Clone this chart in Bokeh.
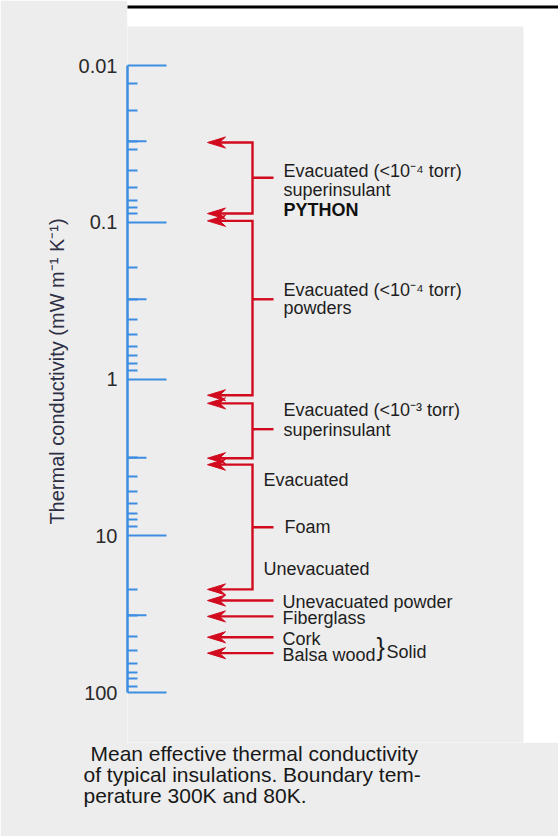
from bokeh.plotting import figure
from bokeh.models import Range1d, FixedTicker, BoxAnnotation, CustomJSTickFormatter, Title
from bokeh.core.properties import value
from bokeh.embed import file_html
from bokeh.resources import INLINE

# ---------------- data ----------------
major_ticks = [0.01, 0.1, 1, 10, 100]
minor_ticks = [0.013, 0.0194, 0.0304, 0.0344, 0.0468, 0.060, 0.0726, 0.0805, 0.088,
               0.1935, 0.31, 0.417, 0.52, 0.62, 0.708, 0.793, 0.883,
               3.18, 4.19, 5.20, 6.22, 7.18, 7.91, 8.73,
               22.1, 32.1, 43.9, 54.0, 65.0, 74.2, 81.5, 91.6]
medium_ticks = [0.0304, 0.31, 3.18, 32.1]

# ranges (upper / lower arrow of each bracket) in mW m-1 K-1
bracket_lo = [0.031, 0.098, 1.43, 3.52]
bracket_hi = [0.088, 1.27, 3.2, 22.0]
bracket_mid = [0.052, 0.31, 2.09, 8.82]

single_names = ["Unevacuated powder", "Fiberglass", "Cork", "Balsa wood"]
single_vals = [25.9, 32.7, 44.4, 56.1]

axis_title = "Thermal conductivity (mW m\u207b\u00b9 K\u207b\u00b9)"
caption_lines = ["Mean effective thermal conductivity",
                 "of typical insulations. Boundary tem-",
                 "perature 300K and 80K."]

# ---------------- style / layout ----------------
FONT = "Liberation Sans"
BLUE = "#3d8de2"
RED = "#d20a1e"
TXT = "#1e1e1e"
BG = "#ededed"

W, H = 558, 836
AXIS_X = 127                  # x of the axis line
FRAME_BOTTOM = 742            # frame spans y 0..742, caption panel below
Y_TOP_PX, DEC_PX = 65.0, 156.75   # y of 0.01, pixels per decade


def v_at(py):
    return 10 ** (-2 + (py - Y_TOP_PX) / DEC_PX)


def fac(dpx):
    return 10 ** (dpx / DEC_PX)


p = figure(width=W, height=H,
           x_range=Range1d(AXIS_X, W),
           y_range=Range1d(v_at(FRAME_BOTTOM), v_at(0)),
           y_axis_type="log", x_axis_location=None, y_axis_location="left",
           min_border_left=AXIS_X, min_border_right=0,
           min_border_top=0, min_border_bottom=H - FRAME_BOTTOM,
           toolbar_location=None, output_backend="svg",
           background_fill_color="white", outline_line_color=None)
p.border_fill_color = BG
p.grid.visible = False

ax = p.yaxis[0]
ax.ticker = FixedTicker(ticks=major_ticks, minor_ticks=minor_ticks)
ax.formatter = CustomJSTickFormatter(code="return String(tick)")
ax.bounds = (major_ticks[0], major_ticks[-1])
ax.axis_line_color = BLUE
ax.axis_line_width = 2.5
ax.major_tick_in = 39
ax.major_tick_out = 0
ax.major_tick_line_color = BLUE
ax.major_tick_line_width = 2.2
ax.minor_tick_in = 10
ax.minor_tick_out = 0
ax.minor_tick_line_color = BLUE
ax.minor_tick_line_width = 2
ax.major_label_standoff = 10
ax.major_label_text_font = FONT
ax.major_label_text_font_size = "20px"
ax.major_label_text_color = "#2a2a2a"
ax.axis_label = axis_title
ax.axis_label_text_font = FONT
ax.axis_label_text_font_size = "20px"
ax.axis_label_text_font_style = "normal"
ax.axis_label_text_color = "#2e2e44"
ax.axis_label_standoff = 8

# textured paper area (frame part)
p.quad(left=35, right=523, top=v_at(26), bottom=v_at(900),
       fill_color=BG, line_color=None)

# medium ticks
p.segment(x0=AXIS_X, y0=medium_ticks, x1=AXIS_X + 19, y1=medium_ticks,
          line_color=BLUE, line_width=2)

# arrows
TIP, BACK, NOTCH, HW = 207, 225, 219, 5.5
BR_X, LBL_X = 252, 273
arrow_vals = bracket_lo + bracket_hi + single_vals
f = fac(HW)
p.patches(xs=[[TIP, BACK, NOTCH, BACK] for v in arrow_vals],
          ys=[[v, v * f, v, v / f] for v in arrow_vals],
          fill_color=RED, line_color=RED, line_width=1)
p.multi_line(xs=[[NOTCH, BR_X, BR_X, NOTCH] for _ in bracket_lo],
             ys=[[lo, lo, hi, hi] for lo, hi in zip(bracket_lo, bracket_hi)],
             line_color=RED, line_width=2.4, line_join="miter")
p.segment(x0=BR_X, y0=bracket_mid, x1=LBL_X, y1=bracket_mid,
          line_color=RED, line_width=2.4)
p.segment(x0=NOTCH, y0=single_vals, x1=LBL_X, y1=single_vals,
          line_color=RED, line_width=2.4)

# bracket labels
LBL_SIZE = "18px"
lab_text = ["Evacuated (<10\u207b\u2074 torr)", "superinsulant",
            "Evacuated (<10\u207b\u2074 torr)", "powders",
            "Evacuated (<10\u207b\u00b3 torr)", "superinsulant",
            "Foam", "Evacuated", "Unevacuated"]
lab_x = [283, 283, 283, 283, 283, 283, 284, 263, 263]
lab_y = [bracket_mid[0], bracket_mid[0], bracket_mid[1], bracket_mid[1],
         bracket_mid[2], bracket_mid[2], bracket_mid[3], bracket_lo[3], bracket_hi[3]]
lab_off = [-6.5, 12.7, -9, 9, -19.4, 0.6, 0, 15, -20.7]
p.text(x=lab_x, y=lab_y, text=lab_text, y_offset=lab_off,
       text_font=value(FONT), text_font_size=value(LBL_SIZE), text_color=TXT,
       text_align="left", text_baseline="middle")
p.text(x=[283], y=[bracket_mid[0]], text=["PYTHON"], y_offset=[32.7],
       text_font=value(FONT), text_font_size=value(LBL_SIZE), text_font_style="bold",
       text_color="#111111", text_align="left", text_baseline="middle")
p.text(x=[282] * len(single_vals), y=single_vals, text=single_names, y_offset=1.5,
       text_font=value(FONT), text_font_size=value(LBL_SIZE), text_color=TXT,
       text_align="left", text_baseline="middle")

# brace + "Solid"
solid_mid = (single_vals[2] * single_vals[3]) ** 0.5
p.text(x=[376], y=[solid_mid], text=["}"], y_offset=2,
       text_font=value(FONT), text_font_size=value("25px"), text_color=TXT,
       text_align="left", text_baseline="middle")
p.text(x=[386], y=[solid_mid], text=["Solid"], y_offset=7,
       text_font=value(FONT), text_font_size=value(LBL_SIZE), text_color=TXT,
       text_align="left", text_baseline="middle")

# caption: three title lines in the panel below the frame
for line, off in zip(caption_lines, [90 - AXIS_X, 83 - AXIS_X, 83 - AXIS_X]):
    p.add_layout(Title(text=line, align="left", vertical_align="middle",
                       offset=off, standoff=-3.8, text_font=FONT,
                       text_font_size="21px", text_font_style="normal",
                       text_color="#181818"), "below")

# screenshot frame line at the top
p.add_layout(BoxAnnotation(left=0, right=W, top=v_at(5), bottom=v_at(8),
                           fill_color="black", fill_alpha=1.0, line_alpha=0.0))

open("out.html", "w").write(file_html(p, INLINE))
